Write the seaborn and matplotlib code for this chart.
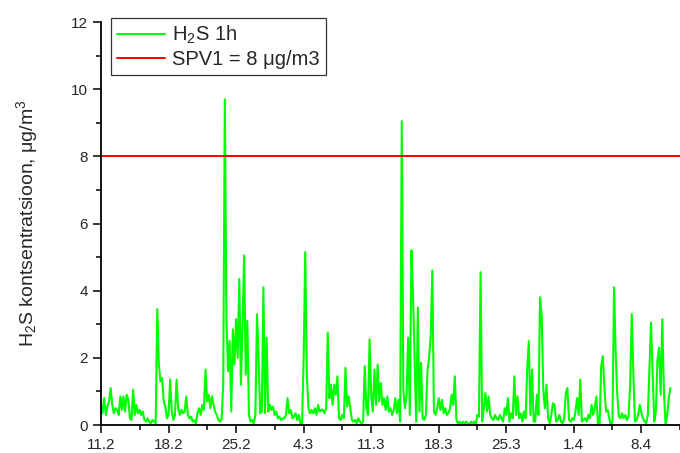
import numpy as np
import pandas as pd
import matplotlib
matplotlib.use('Agg')
import matplotlib.pyplot as plt
from matplotlib.ticker import MultipleLocator
import seaborn as sns

# H2S 1h väärtused, 4 h samm (6 väärtust päevas), alates 11.2 kell 00
h2s = [
    0.6, 0.35, 0.8, 0.3, 0.55, 0.7,      # 11.2
    1.1, 0.6, 0.35, 0.5, 0.45, 0.3,
    0.85, 0.45, 0.85, 0.4, 0.9, 0.75,
    0.2, 0.15, 1.05, 0.3, 0.6, 0.35,
    0.45, 0.3, 0.4, 0.15, 0.1, 0.2,
    0.1, 0.05, 0.15, 0.1, 0.05, 3.45,
    1.8, 1.3, 1.4, 0.7, 0.55, 0.2,
    0.3, 1.35, 0.4, 0.15, 0.3, 1.35,     # 18.2
    0.5, 0.3, 0.45, 0.35, 0.4, 0.85,
    0.3, 0.2, 0.25, 0.1, 0.15, 0.05,
    0.35, 0.5, 0.3, 0.6, 0.45, 1.65,
    0.7, 0.9, 0.5, 0.85, 0.6, 0.4,
    0.3, 0.15, 0.1, 0.2, 1.2, 9.7,
    3.15, 1.6, 2.5, 0.4, 2.85, 1.8,
    3.15, 2.0, 4.35, 1.2, 2.9, 5.05,     # 25.2
    1.5, 3.1, 0.3, 0.1, 0.15, 0.05,
    0.3, 3.3, 2.0, 0.35, 0.4, 4.1,
    0.35, 2.6, 0.4, 0.6, 0.45, 0.55,
    0.3, 0.4, 0.2, 0.25, 0.15, 0.2,
    0.2, 0.3, 0.8, 0.35, 0.45, 0.2,
    0.25, 0.35, 0.15, 0.3, 0.05, 0.0,
    2.0, 5.15, 1.5, 0.5, 0.35, 0.45,     # 4.3
    0.35, 0.5, 0.3, 0.6, 0.4, 0.45,
    0.45, 0.35, 0.5, 2.75, 0.8, 1.2,
    0.6, 1.2, 0.9, 1.45, 0.2, 0.15,
    0.3, 0.2, 1.7, 0.55, 0.85, 0.5,
    0.15, 0.1, 0.15, 0.05, 0.2, 0.1,
    0.05, 0.1, 1.75, 0.5, 0.3, 2.55,
    0.9, 0.4, 1.65, 0.6, 1.8, 0.7,       # 11.3
    1.25, 0.6, 0.8, 0.45, 0.85, 0.4,
    0.5, 0.3, 0.45, 0.8, 0.35, 0.75,
    0.1, 9.05, 1.0, 0.5, 0.9, 2.6,
    0.3, 5.2, 3.9, 1.9, 0.1, 3.5,
    0.4, 1.85, 0.2, 0.15, 0.3, 1.6,
    2.0, 2.65, 4.6, 0.4, 0.3, 0.5,
    0.8, 0.45, 0.75, 0.35, 0.5, 0.3,     # 18.3
    0.35, 0.5, 0.9, 0.6, 1.45, 0.15,
    0.05, 0.1, 0.0, 0.1, 0.05, 0.1,
    0.05, 0.0, 0.1, 0.05, 0.1, 0.0,
    0.3, 0.25, 4.55, 0.1, 0.5, 0.95,
    0.4, 0.85, 0.3, 0.2, 0.15, 0.3,
    0.2, 0.15, 0.3, 0.2, 0.1, 0.5,
    0.3, 0.8, 0.1, 0.35, 0.2, 1.45,      # 25.3
    0.3, 0.85, 0.2, 0.35, 0.1, 0.4,
    0.2, 1.7, 2.5, 0.3, 1.65, 0.1,
    0.1, 0.9, 0.3, 3.8, 3.25, 1.05,
    0.5, 1.2, 0.2, 0.05, 0.3, 0.65,
    0.6, 0.1, 0.15, 0.3, 0.1, 0.05,
    0.2, 0.95, 1.1, 0.15, 0.1, 0.2,
    0.15, 0.4, 0.8, 0.3, 1.35, 0.1,      # 1.4
    0.15, 0.2, 0.1, 0.3, 0.2, 0.6,
    0.3, 0.5, 0.85, 0.0, 0.05, 1.75,
    2.05, 1.1, 0.4, 0.45, 0.2, 0.0,
    0.1, 4.1, 2.15, 0.9, 0.25, 0.2,
    0.35, 0.2, 0.3, 0.15, 0.25, 1.2,
    3.3, 1.5, 0.1, 0.15, 0.3, 0.6,
    0.35, 0.2, 0.1, 0.05, 0.3, 1.7,      # 8.4
    3.05, 1.5, 0.1, 0.4, 1.95, 2.3,
    0.9, 3.15, 1.0, 0.0, 0.3, 0.8,
    1.1,
]
spv1 = 8
tick_labels = ['11.2', '18.2', '25.2', '4.3', '11.3', '18.3', '25.3', '1.4', '8.4']

# aeg päevades alates 11.2
df = pd.DataFrame({'paev': np.arange(len(h2s)) / 6.0, 'h2s': h2s})

sns.set_style('ticks')
plt.rcParams['font.family'] = ['Liberation Sans', 'DejaVu Sans']
plt.rcParams['mathtext.fontset'] = 'custom'
plt.rcParams['mathtext.rm'] = 'Liberation Sans'
plt.rcParams['mathtext.it'] = 'Liberation Sans'

fig = plt.figure(figsize=(6.8, 4.53), dpi=100)
ax = fig.add_axes([0.1485, 0.0618, 0.8515, 0.8896])

sns.lineplot(data=df, x='paev', y='h2s', ax=ax, color='#00ff00', lw=1.5,
             label='H$_2$S 1h')
ax.axhline(spv1, color='#ff0000', lw=1.4, label='SPV1 = 8 μg/m3')

ax.set_xlim(0, 59.15)
ax.set_ylim(0, 12)
ax.set_xticks(np.arange(len(tick_labels)) * 7)
ax.set_xticklabels(tick_labels)
ax.set_xticks(np.arange(len(tick_labels)) * 7 + 4, minor=True)
ax.yaxis.set_major_locator(MultipleLocator(2))
ax.yaxis.set_minor_locator(MultipleLocator(1))

ax.set_xlabel('')
ax.set_ylabel('H$_2$S kontsentratsioon, μg/m$^3$', fontsize=14, labelpad=22)
ax.tick_params(which='major', length=6, width=1.1, labelsize=11, color='black')
ax.tick_params(axis='x', which='major', pad=3)
ax.tick_params(which='minor', length=3.5, width=1.1, color='black')
sns.despine(ax=ax)
for s in ['left', 'bottom']:
    ax.spines[s].set_linewidth(1.3)
    ax.spines[s].set_color('black')

leg = ax.legend(loc='upper left', bbox_to_anchor=(0.0173, 1.01), fontsize=14.5,
                frameon=True, fancybox=False, handlelength=2.4,
                borderpad=0.3, labelspacing=0.2, handletextpad=0.35,
                borderaxespad=0)
leg.get_frame().set_edgecolor('black')
leg.get_frame().set_linewidth(0.9)

plt.savefig('out.png', dpi=100)
